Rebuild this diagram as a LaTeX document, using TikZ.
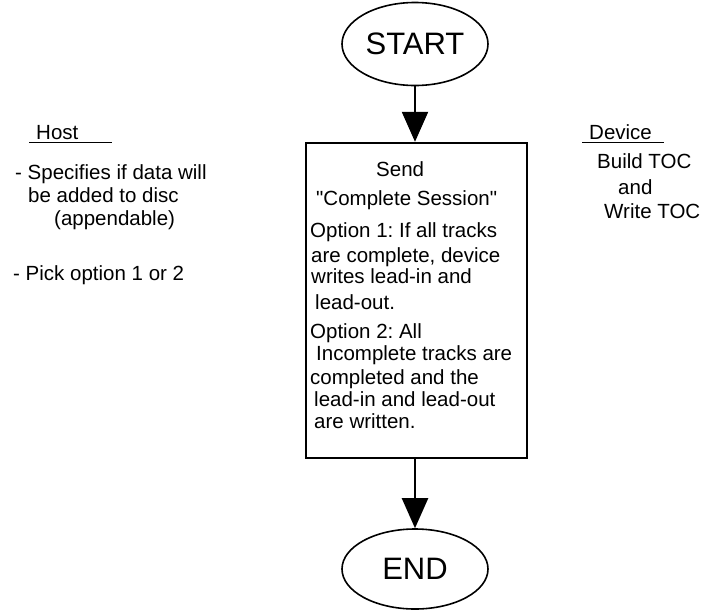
\documentclass[tikz,border=0pt]{standalone}
\usepackage{fontspec}
\setmainfont{Liberation Sans}[Ligatures=TeXOff]
\usetikzlibrary{arrows.meta,shapes.geometric}
\frenchspacing
\begin{document}
\begin{tikzpicture}[x=1pt,y=-1pt,
  term/.style={draw,line width=1.6pt,ellipse,inner sep=0pt,font=\fontsize{31}{34}\selectfont},
  stepbox/.style={draw,line width=2.4pt,rectangle,inner sep=0pt},
  txt/.style={anchor=base west,inner sep=0pt,font=\fontsize{20.5}{23}\selectfont},
  arr/.style={line width=2.2pt,-{Triangle[length=30pt,width=26pt]}},
  uline/.style={line width=1.8pt}]
\useasboundingbox (0,0) rectangle (704,611);
\node[term,minimum width=146pt,minimum height=83pt] (start) at (415,44) {START};
\node[stepbox,minimum width=221pt,minimum height=315pt] (box) at (416.5,300.5) {};
\node[term,minimum width=146pt,minimum height=80pt] (end) at (415,569) {END};
\draw[arr] (start.south) -- (start.south |- box.north);
\draw[arr] (start.south |- box.south) -- (end.north);
% box text
\node[txt] (l1) at (376,176.5) {Send};
\node[txt] (l2) at (316,205.5) {"Complete Session"};
\node[txt] (l3) at (310,237.5) {Option 1: If all tracks};
\node[txt] (l4) at (311,262.5) {are complete, device};
\node[txt] (l5) at (311,283.5) {writes lead-in and};
\node[txt] (l6) at (315,309.5) {lead-out.};
\node[txt] (l7) at (310,338.5) {Option 2: All};
\node[txt] (l8) at (316,360.5) {Incomplete tracks are};
\node[txt] (l9) at (310,384.5) {completed and the};
\node[txt] (l10) at (314,406.5) {lead-in and lead-out};
\node[txt] (l11) at (314,428.5) {are written.};
% host
\node[txt] (host) at (36,139.5) {Host};
\draw[uline] (29,142.5) coordinate (hu1) -- (112,142.5) coordinate (hu2);
\node[txt] (h1) at (15,179.5) {- Specifies if data will};
\node[txt] (h2) at (28,202.5) {be added to disc};
\node[txt] (h3) at (54,225.5) {(appendable)};
\node[txt] (h4) at (13,280.5) {- Pick option 1 or 2};
% device
\node[txt] (dev) at (589,139.5) {Device};
\draw[uline] (582,142.5) coordinate (du1) -- (664,142.5) coordinate (du2);
\node[txt] (d1) at (597,168.5) {Build TOC};
\node[txt] (d2) at (618,194.5) {and};
\node[txt] (d3) at (604,218.5) {Write TOC};
\end{tikzpicture}
\end{document}
